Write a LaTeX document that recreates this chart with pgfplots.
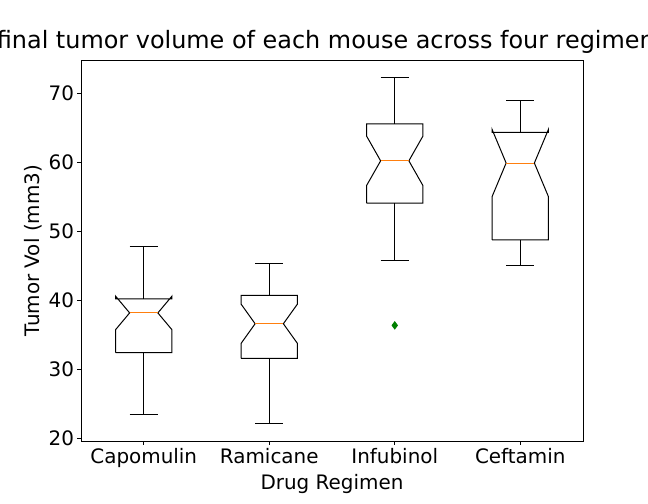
\documentclass[border=0pt]{standalone}
\usepackage{fontspec}
\setmainfont{DejaVu Sans}
\usepackage{pgfplots}
\pgfplotsset{compat=1.18}
\definecolor{mplorange}{HTML}{FF7F0E}
\definecolor{mplgreen}{RGB}{0,128,0}
\begin{document}
\begin{tikzpicture}
\begin{axis}[
  scale only axis,
  width=502bp, height=381bp,
  xmin=0.5, xmax=4.5,
  ymin=19.57, ymax=74.78,
  xtick={1,2,3,4},
  xticklabels={Capomulin,Ramicane,Infubinol,Ceftamin},
  ytick={20,30,40,50,60,70},
  tick pos=left,
  tick align=outside,
  major tick length=3.5bp,
  every tick/.style={black, line width=0.8pt},
  axis line style={line width=0.8pt},
  /pgf/number format/assume math mode=true,
  ticklabel style={font=\fontsize{20}{24}\selectfont},
  label style={font=\fontsize{20}{24}\selectfont},
  xlabel={Drug Regimen},
  ylabel={Tumor Vol (mm3)},
  title={final tumor volume of each mouse across four regimens},
  title style={font=\fontsize{24}{29}\selectfont, at={(0.5,1)}, anchor=base, yshift=6bp},
  unbounded coords=jump,
  every axis plot/.append style={line width=1pt, line join=miter},
]
% Capomulin
\addplot[black] coordinates {(0.775,32.38) (0.775,35.69) (0.8875,38.13) (0.775,40.57) (0.775,40.16) (1.225,40.16) (1.225,40.57) (1.1125,38.13) (1.225,35.69) (1.225,32.38) (0.775,32.38)};
\addplot[black] coordinates {(1,32.38) (1,23.34) (1,nan) (0.8875,23.34) (1.1125,23.34) (1,nan) (1,40.16) (1,47.69) (1,nan) (0.8875,47.69) (1.1125,47.69)};
\addplot[mplorange] coordinates {(0.8875,38.13) (1.1125,38.13)};
% Ramicane
\addplot[black] coordinates {(1.775,31.56) (1.775,33.70) (1.8875,36.56) (1.775,39.42) (1.775,40.66) (2.225,40.66) (2.225,39.42) (2.1125,36.56) (2.225,33.70) (2.225,31.56) (1.775,31.56)};
\addplot[black] coordinates {(2,31.56) (2,22.05) (2,nan) (1.8875,22.05) (2.1125,22.05) (2,nan) (2,40.66) (2,45.22) (2,nan) (1.8875,45.22) (2.1125,45.22)};
\addplot[mplorange] coordinates {(1.8875,36.56) (2.1125,36.56)};
% Infubinol
\addplot[black] coordinates {(2.775,54.05) (2.775,56.57) (2.8875,60.17) (2.775,63.77) (2.775,65.53) (3.225,65.53) (3.225,63.77) (3.1125,60.17) (3.225,56.57) (3.225,54.05) (2.775,54.05)};
\addplot[black] coordinates {(3,54.05) (3,45.70) (3,nan) (2.8875,45.70) (3.1125,45.70) (3,nan) (3,65.53) (3,72.23) (3,nan) (2.8875,72.23) (3.1125,72.23)};
\addplot[mplorange] coordinates {(2.8875,60.17) (3.1125,60.17)};
\addplot[only marks, mark=diamond*, mark size=3.5bp, mplgreen, mark options={fill=mplgreen}] coordinates {(3,36.32)};
% Ceftamin
\addplot[black] coordinates {(3.775,48.72) (3.775,54.96) (3.8875,59.85) (3.775,64.74) (3.775,64.30) (4.225,64.30) (4.225,64.74) (4.1125,59.85) (4.225,54.96) (4.225,48.72) (3.775,48.72)};
\addplot[black] coordinates {(4,48.72) (4,45.00) (4,nan) (3.8875,45.00) (4.1125,45.00) (4,nan) (4,64.30) (4,68.92) (4,nan) (3.8875,68.92) (4.1125,68.92)};
\addplot[mplorange] coordinates {(3.8875,59.85) (4.1125,59.85)};
\end{axis}
\pgfresetboundingbox
\path[use as bounding box] ([shift={(-81bp,-63bp)}]current axis.south west) rectangle ([shift={(65bp,60bp)}]current axis.north east);
\end{tikzpicture}
\end{document}
